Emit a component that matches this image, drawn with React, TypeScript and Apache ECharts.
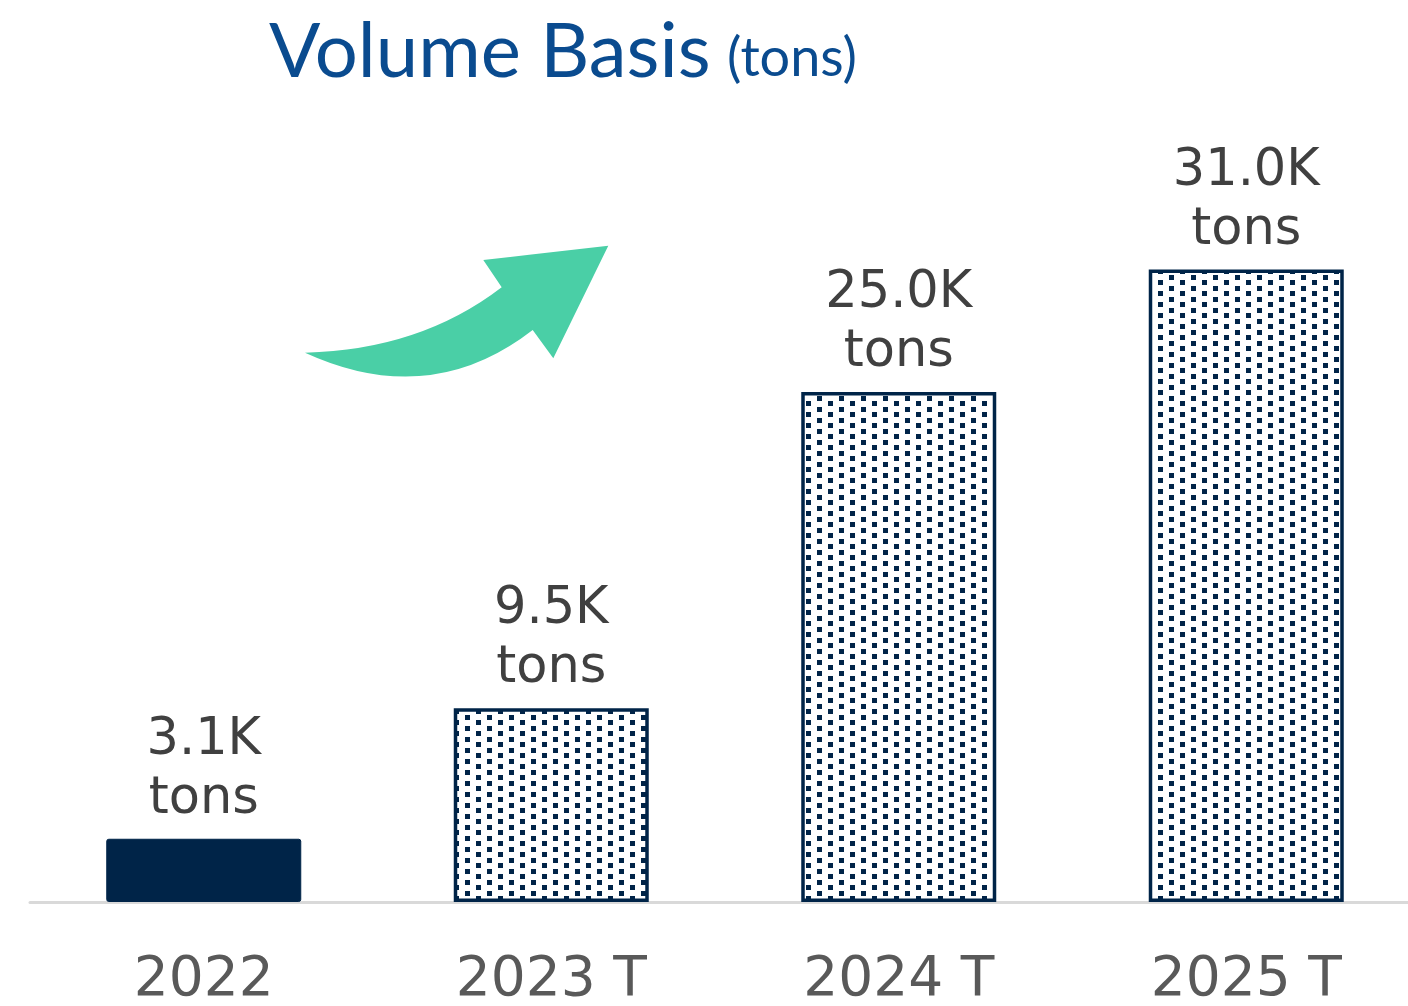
import React, { useEffect, useRef } from "react";
import * as echarts from "echarts";

// ---- data ----
const categories = ["2022", "2023 T", "2024 T", "2025 T"];
const volumes = [3.1, 9.5, 25.0, 31.0]; // thousand tons
const projected = [false, true, true, true];
const labelUnit = "tons";
const titleMain = "Volume Basis";
const titleUnit = "(tons)";

const NAVY = "#002448";
const GREEN = "#4ACFA6";
const TITLE_BLUE = "#0a4b8f";

const ARROW_D =
  "M305,352.7 Q420,350 501.7,287.3 L483.3,260 L608.3,245.7 L553.3,358.3 L532.7,330 Q430,410 305,352.7 Z";

let registered = false;
function ensureShape() {
  if (registered) return;
  echarts.graphic.registerShape("growthArrow", echarts.graphic.extendPath(ARROW_D, {}) as any);
  registered = true;
}

function makeDots(): HTMLCanvasElement {
  const c = document.createElement("canvas");
  c.width = 22;
  c.height = 11;
  const ctx = c.getContext("2d")!;
  ctx.fillStyle = "#ffffff";
  ctx.fillRect(0, 0, 22, 11);
  ctx.fillStyle = NAVY;
  ctx.fillRect(3, 0, 5, 5);
  ctx.fillRect(14, 5, 5, 5);
  return c;
}

export default function App() {
  const ref = useRef<HTMLDivElement>(null);
  useEffect(() => {
    if (!ref.current) return;
    ensureShape();
    const chart = echarts.init(ref.current, undefined, { renderer: "svg" });
    const dots = makeDots();
    const data = volumes.map((v, i) => ({
      value: v,
      itemStyle: projected[i]
        ? {
            color: { image: dots, repeat: "repeat", imageWidth: 22, imageHeight: 11 },
            borderColor: NAVY,
            borderWidth: 3.5,
          }
        : { color: NAVY, borderColor: NAVY, borderWidth: 1, borderRadius: 2 },
    }));
    chart.setOption({
      animation: false,
      backgroundColor: "#ffffff",
      grid: { left: 30, right: 0, top: 86, bottom: 104 },
      xAxis: {
        type: "category",
        data: categories,
        axisLine: { lineStyle: { color: "#d9d9d9", width: 3 } },
        axisTick: { show: false },
        axisLabel: {
          color: "#595959",
          fontSize: 55,
          fontFamily: "DejaVu Sans",
          margin: 46,
          interval: 0,
        },
      },
      yAxis: { type: "value", min: 0, max: 40, show: false },
      series: [
        {
          type: "bar",
          data,
          barWidth: 195,
          label: {
            show: true,
            position: "top",
            distance: 14,
            formatter: (p: any) => `${Number(p.value).toFixed(1)}K\n${labelUnit}`,
            color: "#404040",
            fontSize: 51,
            lineHeight: 59,
            fontFamily: "DejaVu Sans",
          },
        },
      ],
      graphic: [
        { type: "growthArrow", x: 0, y: 0, style: { fill: GREEN } },
        {
          type: "text",
          x: 269,
          y: 47,
          style: {
            text: titleMain,
            fontSize: 76,
            fontFamily: "Lato",
            fill: TITLE_BLUE,
            verticalAlign: "middle",
          },
        },
        {
          type: "text",
          x: 727,
          y: 55,
          style: {
            text: titleUnit,
            fontSize: 54,
            fontFamily: "Lato",
            fill: TITLE_BLUE,
            verticalAlign: "middle",
          },
        },
      ],
    });
    return () => chart.dispose();
  }, []);
  return (
    <div style={{ position: "absolute", left: 0, top: 0, width: 1408, height: 1006, overflow: "hidden" }}>
      <div ref={ref} style={{ position: "absolute", left: 0, top: 0, width: 1420, height: 1006 }} />
    </div>
  );
}
